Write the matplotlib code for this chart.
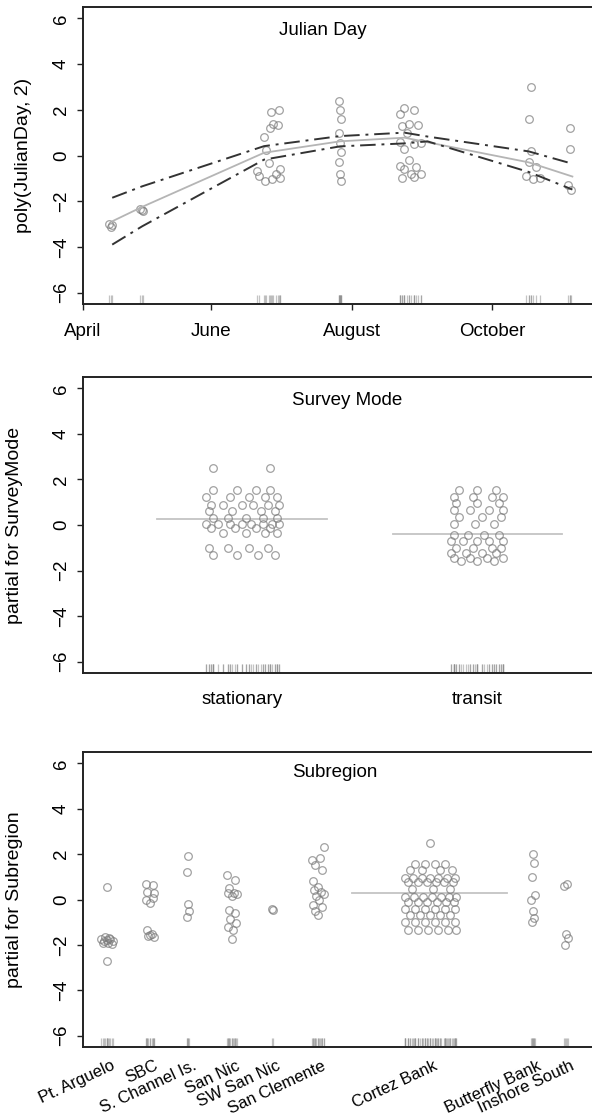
"""Partial-effect panels (termplot style): Julian day, survey mode, subregion."""

import matplotlib

matplotlib.use("Agg")
import matplotlib.pyplot as plt
import numpy as np

plt.rcParams["font.family"] = ["Liberation Sans", "DejaVu Sans"]

# ---- panel 1: poly(JulianDay, 2) ----
month_labels = ["April", "June", "August", "October"]
month_days = [96.3, 152, 213, 274]

fit_days = [109, 122, 175, 208, 236, 246, 290, 309]
fit_mid = [-2.88, -2.25, 0.12, 0.62, 0.78, 0.58, -0.3, -0.92]
fit_upper = [-1.85, -1.35, 0.41, 0.85, 1.0, 0.83, 0.18, -0.36]
fit_lower = [-3.9, -3.1, -0.18, 0.4, 0.53, 0.62, -0.72, -1.49]

jd_day = [107.5, 108.5, 109,
          121, 122.5, 122,
          181.5, 178, 181, 177.5, 179, 175, 176, 177, 182, 173, 178.5, 182, 172, 175.5, 180,
          207.5, 208, 208.5, 207.5, 208, 208.5, 207.5, 208, 208.5,
          236, 240, 234, 238, 242, 235, 237, 234, 240, 243, 236, 238, 234, 241, 236, 239, 243, 235, 240,
          291, 290, 291, 290, 293, 289, 292, 295,
          308, 308, 307, 308.5]
jd_y = [-3.0, -3.15, -3.05,
        -2.35, -2.45, -2.4,
        2.0, 1.9, 1.35, 1.2, 1.4, 0.8, 0.25, -0.35, -0.6, -0.9, -1.05, -1.0, -0.7, -1.1, -0.8,
        2.4, 2.0, 1.6, 1.0, 0.55, 0.15, -0.3, -0.8, -1.1,
        2.1, 2.0, 1.8, 1.4, 1.35, 1.3, 1.0, 0.6, 0.5, 0.55, 0.3, -0.2, -0.45, -0.5, -0.6, -0.8, -0.8, -1.0, -0.95,
        3.0, 1.6, 0.2, -0.3, -0.5, -0.9, -1.05, -1.0,
        1.2, 0.3, -1.3, -1.5]

# ---- panel 2: SurveyMode ----
mode_levels = ["stationary", "transit"]
mode_effect = [0.25, -0.4]

stat_dx = [-0.12, -0.02, 0.06, 0.12,
           -0.15, -0.05, 0.03, 0.10, 0.15,
           -0.13, -0.08, 0.00, 0.05, 0.11, 0.16,
           -0.14, -0.04, 0.08, 0.14,
           -0.12, -0.06, 0.02, 0.09, 0.15,
           -0.15, -0.10, -0.05, 0.00, 0.04, 0.09, 0.13, 0.16,
           -0.13, -0.03, 0.06, 0.12,
           -0.08, 0.02, 0.10, 0.15,
           -0.14, -0.06, 0.03, 0.11,
           -0.12, -0.02, 0.07, 0.14,
           -0.12, 0.12]
stat_y = [1.55, 1.55, 1.55, 1.55,
          1.25, 1.25, 1.25, 1.25, 1.25,
          0.9, 0.9, 0.9, 0.9, 0.9, 0.9,
          0.6, 0.6, 0.6, 0.6,
          0.3, 0.3, 0.3, 0.3, 0.3,
          0.05, 0.05, 0.05, 0.05, 0.05, 0.05, 0.05, 0.05,
          -0.15, -0.15, -0.15, -0.15,
          -0.35, -0.35, -0.35, -0.35,
          -1.0, -1.0, -1.0, -1.0,
          -1.3, -1.3, -1.3, -1.3,
          2.5, 2.5]

trans_dx = [-0.08, 0.0, 0.08,
            -0.10, -0.02, 0.06, 0.11,
            -0.09, 0.0, 0.09,
            -0.10, -0.03, 0.05, 0.11,
            -0.08, 0.02, 0.10,
            -0.10, -0.01, 0.07,
            -0.10, -0.04, 0.03, 0.09,
            -0.11, -0.06, 0.0, 0.05, 0.11,
            -0.09, -0.02, 0.06, 0.10,
            -0.11, -0.05, 0.02, 0.08,
            -0.10, -0.03, 0.04, 0.11,
            -0.07, 0.0, 0.07]
trans_y = [1.55, 1.55, 1.55,
           1.25, 1.25, 1.25, 1.25,
           0.95, 0.95, 0.95,
           0.65, 0.65, 0.65, 0.65,
           0.35, 0.35, 0.35,
           0.05, 0.05, 0.05,
           -0.45, -0.45, -0.45, -0.45,
           -0.7, -0.7, -0.7, -0.7, -0.7,
           -1.0, -1.0, -1.0, -1.0,
           -1.25, -1.25, -1.25, -1.25,
           -1.45, -1.45, -1.45, -1.45,
           -1.6, -1.6, -1.6]

# ---- panel 3: Subregion (level width ~ number of observations) ----
subregions = ["Pt. Arguelo", "SBC", "S. Channel Is.", "San Nic", "SW San Nic",
              "San Clemente", "Cortez Bank", "Butterfly Bank", "Inshore South"]
subregion_n = [42, 44, 32, 56, 24, 68, 155, 52, 14]
cortez_effect = 0.27

# per-level jitter offsets and partial residuals
sub_dx = [
    [-6, -3, 0, 3, 6, -4, 2, 5, -2, 1, 0, 0],
    [-4, 3, -3, 4, -4, 3, 0, -3, 2, -2, 4, 0],
    [0, -1, 0, 1, -1],
    [-5, 3, -3, -4, 2, 5, 0, -3, 3, -2, 4, -4, 1, 0],
    [0, 1],
    [-6, 2, -3, 4, -5, 0, -4, 3, 6, -2, 1, -5, 4, -3, 0, 6],
    [0, -15, -5, 5, 15, -20, -8, 10, 22, -25, -17, -8, 0, 8, 17, 25,
     -22, -12, -3, 6, 14, 23, -18, 3, 20,
     -25, -16, -7, 2, 11, 19, 26, -22, -12, -3, 7, 16, 24,
     -25, -15, -5, 5, 15, 25, -20, -10, 0, 10, 20,
     -25, -15, -5, 5, 15, 25, -22, -12, -2, 8, 18, 26],
    [0, 1, -1, 2, -2, 0, 1, -1],
    [1, -2, 0, 2, -1],
]
sub_y = [
    [-1.75, -1.85, -1.8, -1.75, -1.85, -1.9, -1.7, -1.95, -1.65, -1.9, 0.55, -2.7],
    [0.7, 0.65, 0.35, 0.3, 0.0, 0.05, -0.15, -1.35, -1.5, -1.6, -1.65, -1.55],
    [1.9, 1.2, -0.2, -0.5, -0.75],
    [1.1, 0.85, 0.5, 0.3, 0.3, 0.25, 0.15, -0.45, -0.6, -0.85, -1.05, -1.2, -1.35, -1.75],
    [-0.4, -0.45],
    [1.75, 1.85, 1.5, 1.3, 0.8, 0.55, 0.4, 0.35, 0.25, 0.15, 0.0, -0.25, -0.35, -0.5, -0.7, 2.3],
    [2.5, 1.55, 1.55, 1.55, 1.55, 1.3, 1.3, 1.3, 1.3, 0.95, 0.95, 0.95, 0.95, 0.95, 0.95, 0.95,
     0.75, 0.75, 0.75, 0.75, 0.75, 0.75, 0.45, 0.45, 0.45,
     0.1, 0.1, 0.1, 0.1, 0.1, 0.1, 0.1, -0.1, -0.1, -0.1, -0.1, -0.1, -0.1,
     -0.4, -0.4, -0.4, -0.4, -0.4, -0.4, -0.7, -0.7, -0.7, -0.7, -0.7,
     -1.0, -1.0, -1.0, -1.0, -1.0, -1.0, -1.35, -1.35, -1.35, -1.35, -1.35, -1.35],
    [2.0, 1.6, 1.0, 0.2, 0.0, -0.5, -0.8, -1.0],
    [0.7, 0.6, -1.5, -1.7, -2.0],
]

PT_COLOR = "#7a7a7a"
FIG_W, FIG_H = 592, 1117
AX_LEFT, AX_RIGHT = 83, 600  # right spine sits just outside the picture
YLIM = (-6.5, 6.5)


def _axes(fig, top_px, bottom_px):
    rect = [AX_LEFT / FIG_W, 1 - bottom_px / FIG_H,
            (AX_RIGHT - AX_LEFT) / FIG_W, (bottom_px - top_px) / FIG_H]
    ax = fig.add_axes(rect)
    ax.set_ylim(*YLIM)
    ax.set_yticks([-6, -4, -2, 0, 2, 4, 6])
    ax.tick_params(axis="y", length=4.5, width=1, pad=5, labelsize=13.5,
                   labelrotation=90, color="#222")
    for lab in ax.get_yticklabels():
        lab.set_va("center")
    ax.spines["right"].set_visible(False)
    for side in ("left", "bottom", "top"):
        ax.spines[side].set_linewidth(1.4)
        ax.spines[side].set_color("#222")
    return ax


def _points(ax, x, y):
    ax.plot(x, y, "o", ms=5.5, mfc="none", mec=PT_COLOR, mew=0.9, alpha=0.7,
            linestyle="none", zorder=3)
    ax.vlines(x, -6.5, -6.12, color="#8a8a8a", lw=0.9, alpha=0.5, zorder=2)


fig = plt.figure(figsize=(FIG_W / 100, FIG_H / 100), dpi=100)

# panel 1
ax1 = _axes(fig, 7, 304)
ax1.set_xlim(96.3, 321)
ax1.set_xticks(month_days)
ax1.set_xticklabels(month_labels, fontsize=13.5)
ax1.tick_params(axis="x", length=4.5, width=1, pad=9, color="#222")
_points(ax1, jd_day, jd_y)
ax1.plot(fit_days, fit_mid, color="#b5b5b5", lw=1.3, zorder=4)
for band in (fit_upper, fit_lower):
    ax1.plot(fit_days, band, color="#333", lw=1.4, dashes=(8, 3, 1.5, 3), zorder=5)
ax1.set_ylabel("poly(JulianDay, 2)", fontsize=14)
ax1.yaxis.set_label_coords(-0.099, 0.5)
ax1.text(0.464, 0.922, "Julian Day", transform=ax1.transAxes, ha="center",
         va="center", fontsize=13.5)

# panel 2
ax2 = _axes(fig, 377, 673)
ax2.set_xlim(0.327, 2.52)
mode_pos = np.arange(1, len(mode_levels) + 1)
ax2.set_xticks(mode_pos)
ax2.set_xticklabels(mode_levels, fontsize=13.5)
ax2.tick_params(axis="x", length=0, pad=13)
for pos, eff in zip(mode_pos, mode_effect):
    ax2.plot([pos - 0.36, pos + 0.36], [eff, eff], color="#c4c4c4", lw=1.3, zorder=1)
_points(ax2, mode_pos[0] + np.array(stat_dx), stat_y)
_points(ax2, mode_pos[1] + np.array(trans_dx), trans_y)
ax2.set_ylabel("partial for SurveyMode", fontsize=14)
ax2.yaxis.set_label_coords(-0.116, 0.5)
ax2.text(0.511, 0.922, "Survey Mode", transform=ax2.transAxes, ha="center",
         va="center", fontsize=13.5)

# panel 3
ax3 = _axes(fig, 752, 1047)
edges = np.concatenate([[0], np.cumsum(subregion_n)])
centers = (edges[:-1] + edges[1:]) / 2
ax3.set_xlim(-3, 514)
ax3.set_xticks(centers + 4)
ax3.set_xticklabels(subregions, fontsize=12, rotation=25, ha="right",
                    va="top", rotation_mode="anchor")
ax3.tick_params(axis="x", length=0, pad=8)
ci = subregions.index("Cortez Bank")
ax3.plot([edges[ci], edges[ci + 1]], [cortez_effect, cortez_effect],
         color="#c4c4c4", lw=1.3, zorder=1)
for c, dxs, ys in zip(centers, sub_dx, sub_y):
    _points(ax3, c + np.array(dxs), ys)
ax3.set_ylabel("partial for Subregion", fontsize=14)
ax3.yaxis.set_label_coords(-0.116, 0.5)
ax3.text(0.487, 0.932, "Subregion", transform=ax3.transAxes, ha="center",
         va="center", fontsize=13.5)

fig.savefig("out.png", dpi=100, facecolor="white")
plt.close(fig)
